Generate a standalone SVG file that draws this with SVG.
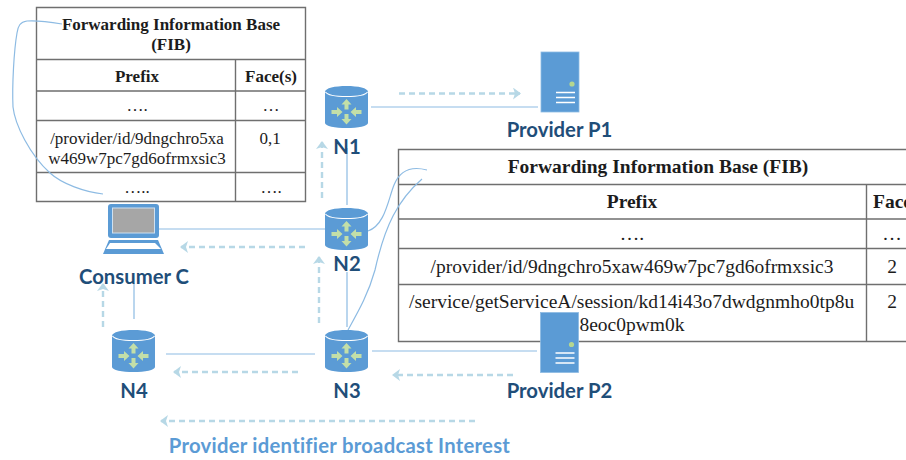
<svg xmlns="http://www.w3.org/2000/svg" width="906" height="460" viewBox="0 0 906 460">
<style>
.bg{fill:#fff}
.grid{fill:none;stroke:#6f6f6f;stroke-width:1.4}
.t{font-family:"Liberation Serif","Times New Roman",serif;fill:#1c1c1c;text-anchor:middle}
.a{font-size:17px}
.ab{font-size:17px;font-weight:bold}
.b{font-size:19.500px}
.bb{font-size:19.500px;font-weight:bold}
.lab{font-family:Lato,"Open Sans",sans-serif;font-weight:bold;font-size:20.300px;fill:#1f4e79;text-anchor:middle}
.blue{fill:#5b9bd5}
.link{fill:none;stroke:#8dbbe3;stroke-width:1.200}
.dash{fill:none;stroke:#b7d8e6;stroke-width:2.400;stroke-dasharray:6 4;marker-end:url(#h)}
.gr{fill:#c3dfa8}
</style>
<defs>
<marker id="h" markerUnits="userSpaceOnUse" markerWidth="9" markerHeight="12" refX="7" refY="6" orient="auto"><path d="M0 0L8 6L0 12L2 6Z" fill="#b7d8e6"/></marker>
<g id="r">
<path class="blue" d="M0 6C0 2 10 0 21.500 0S43 2 43 6V37C43 40 33 42 21.500 42S0 40 0 37Z"/>
<path d="M0.500 6C3 10 12 10.500 21.500 10.500S40 10 42.500 6" fill="none" stroke="#fff" stroke-width="1.200"/>
<path class="gr" d="M21.500 13L26.500 18.500H23.500V23.500H19.500V18.500H16.500Z"/>
<path class="gr" d="M21.500 38.500L26.500 33H23.500V28H19.500V33H16.500Z"/>
<path class="gr" d="M17.500 26L12 21V24H6.500V28H12V31Z"/>
<path class="gr" d="M25.500 26L31 21V24H36.500V28H31V31Z"/>
</g>
<g id="s">
<rect class="blue" x="0" y="0" width="38" height="60" stroke="#8dbbe3" stroke-width="0.800"/>
<circle cx="31" cy="32" r="2.600" fill="#b5d78f"/>
<path d="M15 40.500H34M15 45.500H34M15 50.500H34" stroke="#fff" stroke-width="1.300" fill="none"/>
</g>
</defs>

<g id="fib-c">
<rect class="bg" x="36.500" y="7.500" width="269" height="194"/>
<path class="grid" d="M36.500 7.500H305.500V201.500H36.500ZM36.500 59.500H305.500M36.500 91H305.500M36.500 120.500H305.500M36.500 172.500H305.500M235.500 59.500V201.500"/>
<text class="t ab" x="171" y="30">Forwarding Information Base</text>
<text class="t ab" x="171" y="50">(FIB)</text>
<text class="t ab" x="137" y="82">Prefix</text>
<text class="t ab" x="271" y="82">Face(s)</text>
<text class="t a" x="137" y="111">….</text>
<text class="t a" x="271" y="111">…</text>
<text class="t a" x="137" y="144">/provider/id/9dngchro5xa</text>
<text class="t a" x="137" y="164">w469w7pc7gd6ofrmxsic3</text>
<text class="t a" x="270" y="144">0,1</text>
<text class="t a" x="137" y="193">…..</text>
<text class="t a" x="271" y="193">….</text>
</g>

<g id="fib-n">
<rect class="bg" x="398.500" y="149.500" width="508" height="192"/>
<path class="grid" d="M906 149.500H398.500V341.500H906M398.500 184.500H906M398.500 219H906M398.500 248.500H906M398.500 284.500H906M866.500 184.500V341.500"/>
<text class="t bb" x="658" y="173">Forwarding Information Base (FIB)</text>
<text class="t bb" x="632" y="208">Prefix</text>
<text class="t bb" x="873" y="208" style="text-anchor:start">Face</text>
<text class="t b" x="632" y="240">….</text>
<text class="t b" x="892" y="240">…</text>
<text class="t b" x="632" y="273">/provider/id/9dngchro5xaw469w7pc7gd6ofrmxsic3</text>
<text class="t b" x="892" y="273">2</text>
<text class="t b" x="409" y="308" style="text-anchor:start">/service/getServiceA/session/kd14i43o7dwdgnmho0tp8u</text>
<text class="t b" x="632" y="331">8eoc0pwm0k</text>
<text class="t b" x="892" y="308">2</text>
</g>

<g id="connectors">
<path class="link" d="M371 107H538M347 148V205M158 229H325M347 272V327M166 354H315M372 351H537M134 283V319"/>
<path class="link" d="M62 24C50 22 38 20 27 21C20 22 18 26 17 33C14 50 12 85 13 107C15 125 30 155 50 173C62 184 85 192 103 194"/>
<path class="link" d="M368 231C385 225 388 200 394 185C400 170 412 166 427 170"/>
<path class="link" d="M348 330C358 312 368 295 375 270C385 225 398 200 422 179"/>
<path class="dash" d="M399 93.500H520"/>
<path class="dash" d="M322 198V142"/>
<path class="dash" d="M305 247H181"/>
<path class="dash" d="M319 323V257"/>
<path class="dash" d="M298 372H174"/>
<path class="dash" d="M513 375H393"/>
<path class="dash" d="M103 327V284"/>
<path class="dash" d="M475 421H161"/>
</g>

<g id="consumer-c">
<rect class="blue" x="108" y="204" width="51" height="34" rx="3"/>
<rect x="112.500" y="208" width="42" height="25" fill="#a6a6a6" stroke="#cfe0ef" stroke-width="1"/>
<path class="blue" d="M109 240H158L164 254H103Z"/>
<path d="M110 243H155L161 249H106Z" fill="#fff"/>
<text class="lab" x="134" y="284">Consumer C</text>
</g>
<g id="n1"><use href="#r" x="325" y="86"/><text class="lab" x="347" y="154">N1</text></g>
<g id="n2"><use href="#r" x="325" y="208"/><text class="lab" x="347" y="271">N2</text></g>
<g id="n3"><use href="#r" x="325" y="330"/><text class="lab" x="347" y="398">N3</text></g>
<g id="n4"><use href="#r" x="112" y="330"/><text class="lab" x="134" y="398">N4</text></g>
<g id="p1"><use href="#s" x="541" y="52"/><text class="lab" x="559.500" y="137">Provider P1</text></g>
<g id="p2"><use href="#s" x="540.500" y="312.500"/><text class="lab" x="559.500" y="398">Provider P2</text></g>
<text id="caption" class="lab" x="339.500" y="453" style="fill:#5b9bd5;letter-spacing:.25px">Provider identifier broadcast Interest</text>
</svg>
